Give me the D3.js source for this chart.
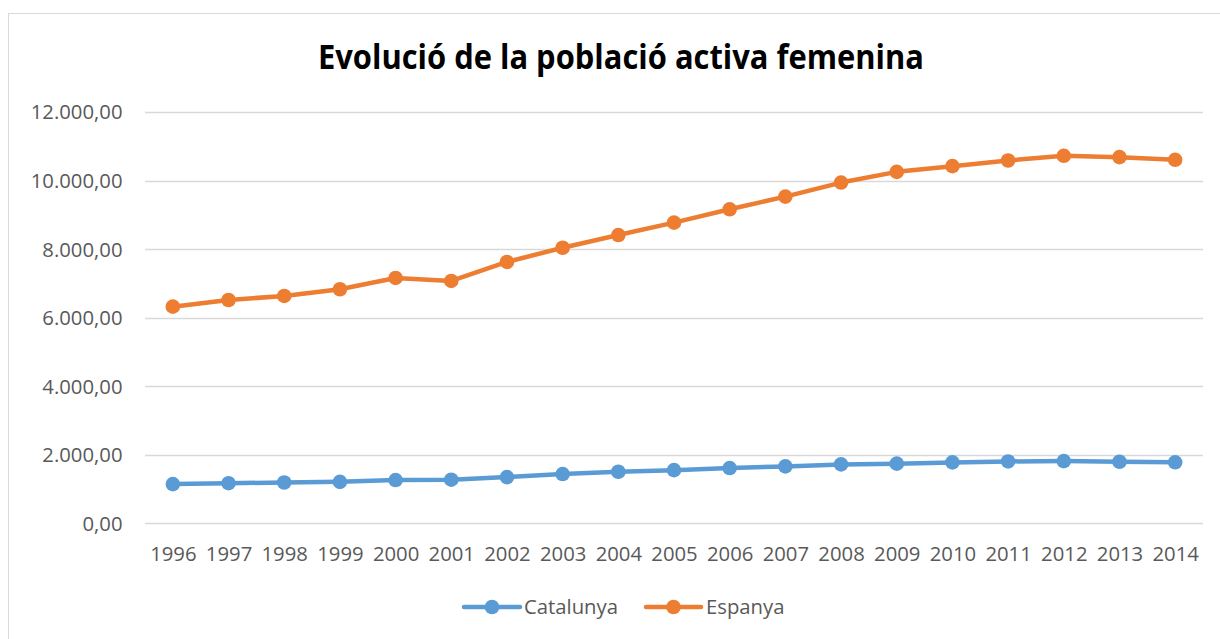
<!DOCTYPE html>
<html>
<head>
<meta charset="utf-8">
<script src="https://cdn.jsdelivr.net/npm/d3@7"></script>
<style>
  html, body { margin: 0; padding: 0; background: #fff; }
  svg { display: block; }
</style>
</head>
<body>
<svg id="chart" width="1220" height="639"></svg>
<script>
const years = ["1996","1997","1998","1999","2000","2001","2002","2003","2004","2005","2006","2007","2008","2009","2010","2011","2012","2013","2014"];
const catalunya = [1143, 1170, 1190, 1210, 1262, 1272, 1348, 1437, 1505, 1550, 1612, 1660, 1718, 1740, 1777, 1805, 1815, 1795, 1780];
const espanya = [6321, 6516, 6633, 6829, 7159, 7071, 7625, 8039, 8410, 8771, 9161, 9532, 9941, 10254, 10420, 10585, 10722, 10683, 10605];
const yTicks = [0, 2000, 4000, 6000, 8000, 10000, 12000];
const seriesNames = ["Catalunya", "Espanya"];
const seriesColors = ["#5B9BD5", "#ED7D31"];
const titleText = "Evolució de la població activa femenina";

const svg = d3.select("#chart");
const FONT = "Open Sans, Noto Sans, sans-serif";
const FS = "20.3px";
const plotLeft = 145, plotRight = 1203, plotTop = 112, plotBottom = 523.3;

// chart frame
svg.append("rect").attr("x", 8.5).attr("y", 13.5).attr("width", 1230).attr("height", 650)
  .attr("fill", "#fff").attr("stroke", "#d9d9d9").attr("stroke-width", 1);

const x = d3.scalePoint().domain(years).range([plotLeft, plotRight]).padding(0.5);
const y = d3.scaleLinear().domain([0, 12000]).range([plotBottom, plotTop]);

const fmt = v => {
  const s = d3.format(",.2f")(v);
  return s.replace(/,/g, "#").replace(".", ",").replace(/#/g, ".");
};

// gridlines
svg.append("g").selectAll("line").data(yTicks).join("line")
  .attr("x1", plotLeft).attr("x2", plotRight)
  .attr("y1", d => Math.round(y(d)) + 0.5).attr("y2", d => Math.round(y(d)) + 0.5)
  .attr("stroke", "#d9d9d9").attr("stroke-width", 1.3);

// y axis labels
const yAxis = d3.axisLeft(y).tickValues(yTicks).tickFormat(fmt).tickSize(0).tickPadding(0);
const yg = svg.append("g").attr("transform", "translate(122.5,0)").call(yAxis);
yg.select(".domain").remove();
yg.selectAll("text").attr("fill", "#595959").style("font-family", FONT).style("font-size", FS).attr("dy", "0.34em");

// x axis labels
const xAxis = d3.axisBottom(x).tickSize(0).tickPadding(0);
const xg = svg.append("g").attr("transform", "translate(0,547)").call(xAxis);
xg.select(".domain").remove();
xg.selectAll("text").attr("fill", "#595959").style("font-family", FONT).style("font-size", FS).attr("dy", "0.71em");

// lines
const line = d3.line().x((d, i) => x(years[i])).y(d => y(d));
[catalunya, espanya].forEach((vals, si) => {
  svg.append("path").datum(vals).attr("d", line)
    .attr("fill", "none").attr("stroke", seriesColors[si]).attr("stroke-width", 4.5)
    .attr("stroke-linejoin", "round").attr("stroke-linecap", "round");
  svg.append("g").selectAll("circle").data(vals).join("circle")
    .attr("cx", (d, i) => x(years[i])).attr("cy", d => y(d)).attr("r", 7.3)
    .attr("fill", seriesColors[si]);
});

// title
svg.append("text").attr("x", 621).attr("y", 69).attr("text-anchor", "middle")
  .style("font-family", "Open Sans, sans-serif").style("font-weight", "bold").style("font-size", "34px")
  .attr("textLength", 606).attr("lengthAdjust", "spacingAndGlyphs")
  .attr("fill", "#000").text(titleText);

// legend
const legendItems = [{x0: 464, x1: 520, tx: 524}, {x0: 646, x1: 701, tx: 706}];
legendItems.forEach((it, i) => {
  const g = svg.append("g");
  g.append("line").attr("x1", it.x0).attr("x2", it.x1).attr("y1", 607).attr("y2", 607)
    .attr("stroke", seriesColors[i]).attr("stroke-width", 4.5).attr("stroke-linecap", "round");
  g.append("circle").attr("cx", (it.x0 + it.x1) / 2).attr("cy", 607).attr("r", 7.3).attr("fill", seriesColors[i]);
  g.append("text").attr("x", it.tx).attr("y", 607).attr("dy", "0.35em")
    .attr("fill", "#595959").style("font-family", FONT).style("font-size", FS).text(seriesNames[i]);
});
</script>
</body>
</html>
